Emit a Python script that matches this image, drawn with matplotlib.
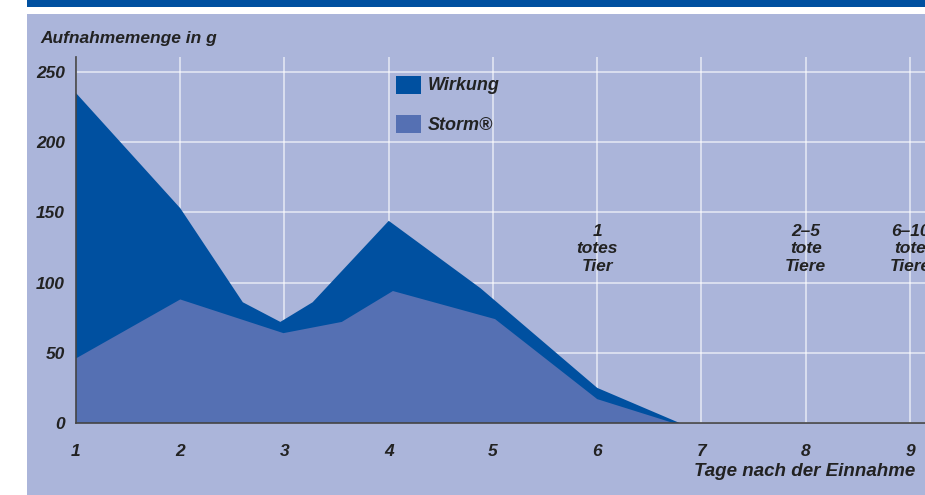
import matplotlib
matplotlib.use("Agg")
import matplotlib.pyplot as plt
from matplotlib.patches import Rectangle

# ---- data ----
days_ticks = [1, 2, 3, 4, 5, 6, 7, 8, 9]
y_ticks = [0, 50, 100, 150, 200, 250]

wirkung_x = [1, 2, 2.6, 2.96, 3.27, 4, 4.88, 6, 6.79]
wirkung_y = [235, 153, 86, 72, 86, 144, 96, 25, 0]

storm_x = [1, 2, 2.99, 3.55, 4.04, 5.02, 6, 6.73]
storm_y = [46, 88, 64, 72, 94, 74, 17, 0]

series_labels = ["Wirkung", "Storm\u00ae"]
annot_x = [6, 8, 9]
annot_text = ["1\ntotes\nTier", "2\u20135\ntote\nTiere", "6\u201310\ntote\nTiere"]

y_label = "Aufnahmemenge in g"
x_label = "Tage nach der Einnahme"

# ---- style ----
BG = "#ABB5DA"
DARK = "#0050A0"
LIGHT = "#5570B3"
TXT = "#222222"
FONT = ["Liberation Sans", "DejaVu Sans"]
plt.rcParams["font.family"] = FONT

W, H = 925, 495
fig = plt.figure(figsize=(W / 100, H / 100), dpi=100, facecolor="white")

def fx(px):
    return px / W

def fy(py):
    return 1 - py / H

# panel + top bar
fig.patches.append(Rectangle((fx(27), 0), 1 - fx(27), fy(14), transform=fig.transFigure,
                             facecolor=BG, edgecolor="none", zorder=-2))
fig.patches.append(Rectangle((fx(27), fy(7)), 1 - fx(27), fy(0) - fy(7), transform=fig.transFigure,
                             facecolor=DARK, edgecolor="none", zorder=-2))

ax_left, ax_right = 76, 925
ax_top, ax_bottom = 57, 423
ax = fig.add_axes([fx(ax_left), fy(ax_bottom), fx(ax_right - ax_left), (ax_bottom - ax_top) / H])
ax.set_facecolor("none")
ax.set_zorder(2)

px_per_day = 104.25
px_per_unit = (ax_bottom - 72) / 250
ax.set_xlim(1, 1 + (ax_right - ax_left) / px_per_day)
ax.set_ylim(0, (ax_bottom - ax_top) / px_per_unit)

ax.fill_between(wirkung_x, wirkung_y, 0, facecolor=DARK, edgecolor="none", zorder=2)
ax.fill_between(storm_x, storm_y, 0, facecolor=LIGHT, edgecolor="none", zorder=3)

ax.set_xticks(days_ticks)
ax.set_yticks(y_ticks)
ax.grid(True, color="white", linewidth=1.2, alpha=0.65, zorder=1)
ax.set_axisbelow(True)
ax.tick_params(length=0)
ax.tick_params(axis="x", pad=15)
ax.tick_params(axis="y", pad=8)
ax.set_xticklabels([str(d) for d in days_ticks], fontsize=12.5, fontweight="bold",
                   fontstyle="italic", color=TXT)
ax.set_yticklabels([str(v) for v in y_ticks], fontsize=12.5, fontweight="bold",
                   fontstyle="italic", color=TXT)

for s in ["top", "right"]:
    ax.spines[s].set_visible(False)
for s in ["left", "bottom"]:
    ax.spines[s].set_color("#444444")
    ax.spines[s].set_linewidth(1.2)
    ax.spines[s].set_zorder(5)

# annotations
for xv, t in zip(annot_x, annot_text):
    ax.text(xv, 124, t, ha="center", va="center", fontsize=12.5, fontweight="bold",
            fontstyle="italic", color=TXT, linespacing=1.22, zorder=6, clip_on=False)

# legend (manual)
for i, (lab, col) in enumerate(zip(series_labels, [DARK, LIGHT])):
    top = 76 + i * 39
    fig.patches.append(Rectangle((fx(396), fy(top + 18)), fx(25), 18 / H, transform=fig.transFigure,
                                 facecolor=col, edgecolor="none", zorder=6))
    fig.text(fx(428), fy(top + 10), lab, ha="left", va="center", fontsize=13,
             fontweight="bold", fontstyle="italic", color=TXT, zorder=7)

fig.text(fx(40), fy(38), y_label, ha="left", va="center", fontsize=12.5,
         fontweight="bold", fontstyle="italic", color=TXT)
fig.text(fx(915), fy(472), x_label, ha="right", va="center", fontsize=13.5,
         fontweight="bold", fontstyle="italic", color=TXT)

fig.savefig("out.png", dpi=100, facecolor="white")
